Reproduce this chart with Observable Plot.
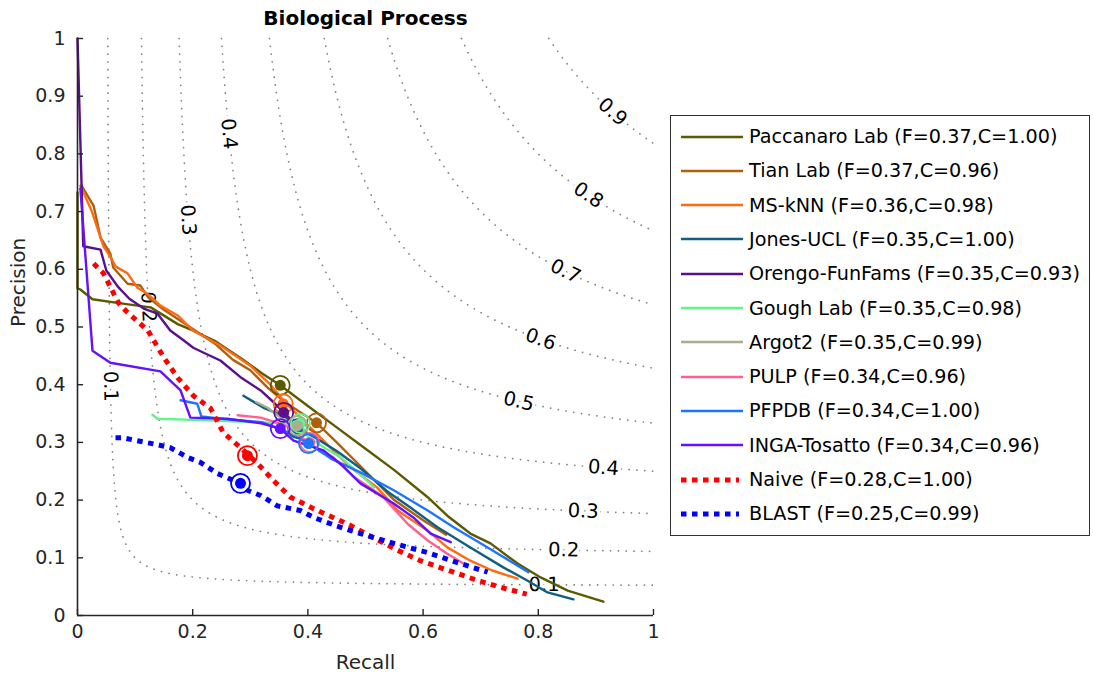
<!DOCTYPE html>
<html><head><meta charset="utf-8">
<script src="https://cdn.jsdelivr.net/npm/d3@7"></script>
<script src="https://cdn.jsdelivr.net/npm/@observablehq/plot@0.6"></script>
<style>
body{margin:0;background:#fff;font-family:"DejaVu Sans",sans-serif;}
#wrap{position:relative;width:1093px;height:679px;overflow:hidden;}
#legend{position:absolute;left:670px;top:115px;width:420px;height:421px;border:1.5px solid #333;background:#fff;box-sizing:border-box;}
.row{position:absolute;left:0;height:30px;display:flex;align-items:center;white-space:nowrap;font-size:19.2px;color:#000;}
.row svg{margin-left:10px;margin-right:6px;}
</style></head><body><div id="wrap"></div>
<script>
// ---- data ----
const methods = ["Paccanaro Lab","Tian Lab","MS-kNN","Jones-UCL","Orengo-FunFams","Gough Lab","Argot2","PULP","PFPDB","INGA-Tosatto","Naive","BLAST"];
const fmax     = ["0.37","0.37","0.36","0.35","0.35","0.35","0.35","0.34","0.34","0.34","0.28","0.25"];
const coverage = ["1.00","0.96","0.98","1.00","0.93","0.98","0.99","0.96","1.00","0.96","1.00","0.99"];
const colors = ["#5c5a00","#b0600a","#ff6a13","#0f5f80","#5a0f8c","#5ff58a","#a8ae90","#ff6090","#1e74ff","#6311ff","#ff0000","#0000ff"];
const dotted = [false,false,false,false,false,false,false,false,false,false,true,true];
const markerR = [0.352,0.415,0.357,0.382,0.358,0.387,0.382,0.403,0.401,0.352,0.295,0.283];
const markerP = [0.399,0.334,0.367,0.324,0.352,0.333,0.329,0.300,0.298,0.324,0.277,0.229];

const xTicks = [0,0.2,0.4,0.6,0.8,1];
const xTickLabels = ["0","0.2","0.4","0.6","0.8","1"];
const yTicks = [0,0.1,0.2,0.3,0.4,0.5,0.6,0.7,0.8,0.9,1];
const yTickLabels = ["0","0.1","0.2","0.3","0.4","0.5","0.6","0.7","0.8","0.9","1"];

const fLevels = [0.1,0.2,0.3,0.4,0.5,0.6,0.7,0.8,0.9];
const labelF = [0.1,0.1,0.2,0.2,0.3,0.3,0.4,0.4,0.5,0.6,0.7,0.8,0.9];
const labelR = [0.0572,0.81,0.123,0.844,0.192,0.878,0.263,0.913,0.766,0.804,0.847,0.887,0.929];

// series: [recall, precision]
const paccanaro = [[0,0.733],[0,0.567],[0.005,0.565],[0.026,0.548],[0.075,0.541],[0.127,0.534],[0.174,0.505],[0.2,0.494],[0.24,0.475],[0.285,0.445],[0.32,0.42],[0.352,0.399],[0.4,0.363],[0.45,0.326],[0.5,0.289],[0.55,0.252],[0.608,0.205],[0.642,0.173],[0.682,0.142],[0.717,0.125],[0.764,0.09],[0.804,0.066],[0.851,0.043],[0.913,0.024]];
const tian = [[0.007,0.745],[0.028,0.71],[0.04,0.655],[0.057,0.627],[0.062,0.603],[0.087,0.575],[0.109,0.572],[0.123,0.551],[0.15,0.53],[0.18,0.51],[0.21,0.49],[0.24,0.47],[0.27,0.443],[0.3,0.425],[0.33,0.395],[0.36,0.37],[0.39,0.35],[0.415,0.334],[0.45,0.3],[0.5,0.25],[0.55,0.2],[0.6,0.165],[0.64,0.14]];
const msknn = [[0.005,0.745],[0.025,0.7],[0.045,0.64],[0.058,0.62],[0.066,0.605],[0.087,0.593],[0.104,0.568],[0.121,0.558],[0.144,0.537],[0.174,0.52],[0.2,0.494],[0.248,0.468],[0.3,0.433],[0.335,0.4],[0.357,0.373],[0.39,0.34],[0.43,0.3],[0.47,0.26],[0.52,0.222],[0.556,0.182],[0.608,0.147],[0.642,0.118],[0.682,0.095],[0.72,0.078],[0.764,0.064]];
const jones = [[0.288,0.381],[0.323,0.36],[0.36,0.345],[0.382,0.324],[0.41,0.31],[0.45,0.285],[0.49,0.256],[0.538,0.215],[0.578,0.187],[0.625,0.153],[0.682,0.118],[0.74,0.083],[0.78,0.061],[0.816,0.04],[0.861,0.028]];
const orengo = [[0,1],[0.01,0.64],[0.04,0.634],[0.05,0.598],[0.07,0.57],[0.09,0.549],[0.115,0.532],[0.139,0.523],[0.161,0.494],[0.184,0.477],[0.201,0.464],[0.22,0.455],[0.248,0.442],[0.283,0.413],[0.318,0.39],[0.34,0.37],[0.358,0.352],[0.37,0.34]];
const gough = [[0.13,0.348],[0.139,0.341],[0.2,0.339],[0.26,0.337],[0.33,0.334],[0.387,0.333],[0.4,0.31],[0.43,0.29],[0.457,0.274],[0.49,0.245],[0.515,0.222]];
const argot2 = [[0.31,0.37],[0.33,0.36],[0.35,0.345],[0.37,0.333],[0.382,0.329],[0.39,0.32]];
const pulp = [[0.278,0.347],[0.318,0.343],[0.36,0.33],[0.401,0.3],[0.42,0.285],[0.444,0.274],[0.48,0.24],[0.51,0.22],[0.531,0.205],[0.573,0.159],[0.608,0.13],[0.642,0.107],[0.67,0.09]];
const pfpdb = [[0.179,0.373],[0.208,0.367],[0.215,0.345],[0.26,0.34],[0.32,0.335],[0.36,0.32],[0.401,0.298],[0.44,0.272],[0.491,0.248],[0.549,0.217],[0.608,0.182],[0.653,0.153],[0.712,0.118],[0.783,0.075]];
const inga = [[0.005,0.74],[0.026,0.459],[0.057,0.438],[0.144,0.423],[0.179,0.39],[0.196,0.343],[0.26,0.341],[0.319,0.333],[0.352,0.324],[0.375,0.303],[0.427,0.286],[0.46,0.26],[0.491,0.229],[0.549,0.194],[0.583,0.17],[0.613,0.142],[0.648,0.127]];
const naive = [[0.028,0.61],[0.045,0.593],[0.071,0.542],[0.087,0.525],[0.122,0.494],[0.15,0.447],[0.174,0.412],[0.201,0.381],[0.231,0.359],[0.253,0.317],[0.283,0.291],[0.313,0.263],[0.34,0.234],[0.37,0.205],[0.41,0.185],[0.474,0.156],[0.523,0.13],[0.556,0.113],[0.595,0.095],[0.653,0.075],[0.694,0.061],[0.734,0.049],[0.78,0.037]];
const blast = [[0.066,0.308],[0.078,0.308],[0.139,0.296],[0.161,0.291],[0.191,0.274],[0.214,0.265],[0.243,0.246],[0.283,0.229],[0.295,0.217],[0.318,0.208],[0.347,0.19],[0.387,0.182],[0.41,0.17],[0.45,0.155],[0.491,0.142],[0.549,0.125],[0.608,0.109],[0.665,0.09],[0.712,0.075]];

const series = [paccanaro,tian,msknn,jones,orengo,gough,argot2,pulp,pfpdb,inga,naive,blast];

// ---- iso-F reference curves (F = 2PR/(P+R)) ----
const g = (f, t) => f * t / (2 * t - f);
const curves = fLevels.flatMap(f => {
  const r0 = f / (2 - f), n = 300, pts = [];
  for (let i = 0; i <= n; i++) {
    const t = r0 + (1 - r0) * i / n;
    pts.push({f, r: t, p: g(f, t)});
    pts.push({f, r: g(f, t), p: t});
  }
  return pts.sort((a, b) => a.r - b.r);
});
const labels = labelF.map((f, i) => {
  const r = labelR[i], p = g(f, r);
  const slope = (f * f) / Math.pow(2 * r - f, 2);
  return {f, r, p, a: Math.atan(slope) * 180 / Math.PI};
});

const font = '"DejaVu Sans", sans-serif';
const ink = "#262626";
const lineMarks = series.map((s, i) => Plot.line(s, {
  x: d => d[0], y: d => d[1], stroke: colors[i],
  strokeWidth: dotted[i] ? 5 : 2.4,
  strokeDasharray: dotted[i] ? "5.5,5.5" : null,
  strokeLinecap: dotted[i] ? "butt" : "round", strokeLinejoin: "round"
}));
const idx = d3.range(methods.length);
const markerMarks = idx.flatMap(i => [
  Plot.dot([i], {x: j => markerR[j], y: j => markerP[j], r: 5.5, fill: colors[i], stroke: "none"}),
  Plot.dot([i], {x: j => markerR[j], y: j => markerP[j], r: 9.5, fill: "none", stroke: colors[i], strokeWidth: 1.8})
]);

const chart = Plot.plot({
  width: 1093, height: 679,
  marginLeft: 77, marginRight: 440, marginTop: 38, marginBottom: 64,
  x: {domain: [0, 1]}, y: {domain: [0, 1]},
  style: {fontFamily: font, fontSize: "19px", color: ink, background: "white", overflow: "visible"},
  marks: [
    Plot.line(curves, {x: "r", y: "p", z: "f", stroke: "#7f7f7f", strokeWidth: 1.7, strokeDasharray: "0.1,7.7", strokeLinecap: "round"}),
    Plot.text(labels, {x: "r", y: "p", text: d => d.f.toFixed(1), rotate: "a", fill: "black", stroke: "white", strokeWidth: 7, fontSize: 19.5}),
    ...lineMarks,
    ...markerMarks,
    Plot.ruleY([0], {stroke: ink, strokeWidth: 1.6}),
    Plot.ruleX([0], {stroke: ink, strokeWidth: 1.6}),
    Plot.ruleX(xTicks, {x: d => d, y1: 0, y2: 0.0105, stroke: ink, strokeWidth: 1.4}),
    Plot.ruleY(yTicks, {y: d => d, x1: 0, x2: 0.0105, stroke: ink, strokeWidth: 1.4}),
    Plot.axisX({ticks: xTicks, tickFormat: (d) => xTickLabels[xTicks.indexOf(d)], tickSize: 0, tickPadding: 9, label: null, fontSize: 19}),
    Plot.axisY({ticks: yTicks, tickFormat: (d) => yTickLabels[yTicks.indexOf(d)], tickSize: 0, tickPadding: 12, label: null, fontSize: 19}),
    Plot.text(["Recall"], {frameAnchor: "bottom", dy: 53, fill: ink, fontSize: 20}),
    Plot.text(["Precision"], {frameAnchor: "left", dx: -59, rotate: -90, fill: ink, fontSize: 20}),
    Plot.text(["Biological Process"], {frameAnchor: "top", dy: -28, fill: "black", fontSize: 20, fontWeight: "bold"})
  ]
});
const wrap = document.getElementById("wrap");
wrap.appendChild(chart);

// ---- legend ----
const legend = document.createElement("div");
legend.id = "legend";
methods.forEach((m, i) => {
  const row = document.createElement("div");
  row.className = "row";
  row.style.top = (22 - 15 + i * 34.3 - 1.5) + "px";
  const ns = "http://www.w3.org/2000/svg";
  const svg = document.createElementNS(ns, "svg");
  svg.setAttribute("width", 62); svg.setAttribute("height", 10);
  const ln = document.createElementNS(ns, "line");
  ln.setAttribute("x1", 0); ln.setAttribute("x2", dotted[i] ? 58 : 62);
  ln.setAttribute("y1", 5); ln.setAttribute("y2", 5);
  ln.setAttribute("stroke", colors[i]);
  ln.setAttribute("stroke-width", dotted[i] ? 5 : 2.4);
  if (dotted[i]) ln.setAttribute("stroke-dasharray", "5.5,5.5");
  svg.appendChild(ln);
  row.appendChild(svg);
  const span = document.createElement("span");
  span.textContent = `${m} (F=${fmax[i]},C=${coverage[i]})`;
  row.appendChild(span);
  legend.appendChild(row);
});
wrap.appendChild(legend);
</script></body></html>
